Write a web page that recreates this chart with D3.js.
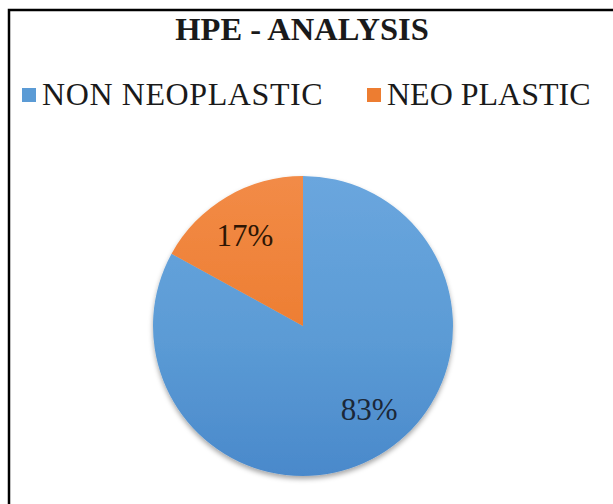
<!DOCTYPE html>
<html>
<head>
<meta charset="utf-8">
<script src="https://cdn.jsdelivr.net/npm/d3@7"></script>
<style>
  html, body { margin: 0; padding: 0; background: #ffffff; }
  svg { display: block; }
</style>
</head>
<body>
<svg id="chart" width="613" height="504"></svg>
<script>
// HPE analysis: share of non-neoplastic vs neoplastic lesions
const title = "HPE - ANALYSIS";
const categories = ["NON NEOPLASTIC", "NEO PLASTIC"];
const values = [83, 17];
const valueLabels = ["83%", "17%"];
const colors = ["#5b9bd5", "#ed7d31"];
const colorsLight = ["#6aa6de", "#f28b47"];
const colorsDark = ["#4a89cb", "#e2702a"];
const labelColors = ["#1b2838", "#2e1604"];

const W = 613, H = 504;
const svg = d3.select("#chart");
const serif = "'Liberation Serif', 'Times New Roman', serif";

// frame around the chart area (open at the right and bottom edges)
svg.append("path")
  .attr("d", `M9,${H} L9,10 L${W},10`)
  .attr("fill", "none")
  .attr("stroke", "#000")
  .attr("stroke-width", 2.5);

// title
svg.append("text")
  .attr("x", 302).attr("y", 40)
  .attr("text-anchor", "middle")
  .attr("font-family", serif)
  .attr("font-weight", "bold")
  .attr("font-size", 32.5)
  .attr("fill", "#1a1a1a")
  .text(title);

// legend
const legendX = [22, 367];
const legend = svg.append("g");
categories.forEach((c, i) => {
  legend.append("rect")
    .attr("x", legendX[i]).attr("y", 88)
    .attr("width", 14).attr("height", 14)
    .attr("fill", colors[i]);
  legend.append("text")
    .attr("x", legendX[i] + 20).attr("y", 105)
    .attr("font-family", serif)
    .attr("font-size", 32)
    .attr("letter-spacing", i === 0 ? 0.6 : 0)
    .attr("fill", "#1a1a1a")
    .text(c);
});

// gradients and soft shadow for the pie
const defs = svg.append("defs");
categories.forEach((c, i) => {
  const g = defs.append("linearGradient")
    .attr("id", "grad" + i)
    .attr("gradientUnits", "userSpaceOnUse")
    .attr("x1", 0).attr("y1", -150).attr("x2", 0).attr("y2", 150);
  g.append("stop").attr("offset", "0%").attr("stop-color", colorsLight[i]);
  g.append("stop").attr("offset", "55%").attr("stop-color", colors[i]);
  g.append("stop").attr("offset", "100%").attr("stop-color", colorsDark[i]);
});
const f = defs.append("filter").attr("id", "shadow")
  .attr("x", "-20%").attr("y", "-20%").attr("width", "140%").attr("height", "140%");
f.append("feDropShadow")
  .attr("dx", 0).attr("dy", 3).attr("stdDeviation", 2.5)
  .attr("flood-color", "#000").attr("flood-opacity", 0.35);

// pie
const cx = 303, cy = 326, r = 150;
const pie = d3.pie().sort(null).value(d => d);
const arcs = pie(values);
const arc = d3.arc().innerRadius(0).outerRadius(r);
const labelArc = d3.arc().innerRadius(r * 0.71).outerRadius(r * 0.71);
// small best-fit nudges for the value labels (pixels)
const labelNudge = [[12, -9], [-4, 1]];

const gPie = svg.append("g").attr("transform", `translate(${cx},${cy})`);
gPie.append("g").attr("filter", "url(#shadow)")
  .selectAll("path")
  .data(arcs)
  .join("path")
  .attr("d", arc)
  .attr("fill", (d, i) => `url(#grad${i})`);

gPie.selectAll("text.lbl")
  .data(arcs)
  .join("text")
  .attr("class", "lbl")
  .attr("transform", (d, i) => {
    const [x, y] = labelArc.centroid(d);
    return `translate(${x + labelNudge[i][0]},${y + labelNudge[i][1]})`;
  })
  .attr("text-anchor", "middle")
  .attr("dy", "0.35em")
  .attr("font-family", serif)
  .attr("font-size", 31)
  .attr("fill", (d, i) => labelColors[i])
  .text((d, i) => valueLabels[i]);
</script>
</body>
</html>
